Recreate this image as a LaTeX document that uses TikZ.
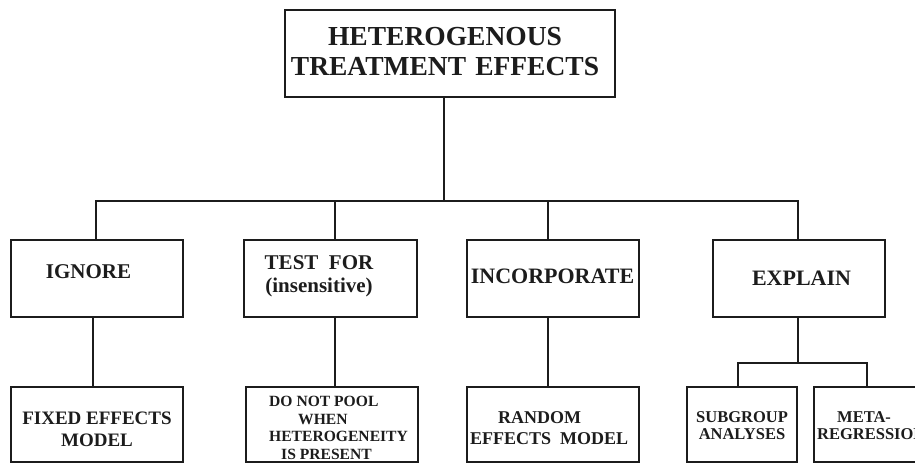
\documentclass[tikz,border=0pt]{standalone}
\usepackage{fontspec}
\setmainfont{Liberation Serif}
\definecolor{ink}{HTML}{1C1C1C}
\begin{document}
\begin{tikzpicture}[x=1pt,y=-1pt,
  box/.style={draw=ink,line width=1.6pt,rectangle,inner sep=0pt,minimum height=#1},
  box/.default=77,
  conn/.style={draw=ink,line width=1.6pt},
  txt/.style={inner sep=0pt,text=ink,font=\bfseries\fontsize{#1}{#1}\selectfont},
]
\useasboundingbox (0,0) rectangle (915,464);
\clip (0,0) rectangle (915,464);
% boxes
\node[box=87,minimum width=330] (top) at (450,53.5) {};
\node[box,minimum width=172] (ign) at (97,278.5) {};
\node[box,minimum width=173] (tst) at (330.5,278.5) {};
\node[box,minimum width=172] (inc) at (553,278.5) {};
\node[box,minimum width=172] (exp) at (799,278.5) {};
\node[box=75,minimum width=172] (fix) at (97,424.5) {};
\node[box=75,minimum width=172] (dnp) at (332,424.5) {};
\node[box=75,minimum width=172] (ran) at (553,424.5) {};
\node[box=75,minimum width=110] (sub) at (742,424.5) {};
\node[box=75,minimum width=112] (met) at (870,424.5) {};
% texts
\node[txt=27.5,align=center,text width=330,font=\bfseries\fontsize{27.5}{30}\selectfont] (topT) at (445,51.5) {HETEROGENOUS\\TREATMENT EFFECTS};
\node[txt=21] (ignT) at (88.5,272) {IGNORE};
\node[txt=21,align=center,font=\bfseries\fontsize{21}{23}\selectfont] (tstT) at (319,276) {TEST\ \ FOR\\(insensitive)};
\node[txt=22] (incT) at (552.5,276) {INCORPORATE};
\node[txt=22] (expT) at (801.5,278) {EXPLAIN};
\node[txt=19,align=center,font=\bfseries\fontsize{19}{22}\selectfont] (fixT) at (97,429.5) {FIXED EFFECTS\\MODEL};
\node[txt=15.6,align=left,anchor=west,font=\bfseries\fontsize{15.6}{17.7}\selectfont] (dnpT) at (269,428) {DO NOT POOL\\\hspace*{29pt}WHEN\\HETEROGENEITY\\\hspace*{12pt}IS PRESENT};
\node[txt=18,align=left,anchor=west,font=\bfseries\fontsize{18}{21}\selectfont] (ranT) at (470,428.5) {\hspace*{28pt}RANDOM\\EFFECTS\ \ MODEL};
\node[txt=16.5,align=center,font=\bfseries\fontsize{16.5}{17}\selectfont] (subT) at (742,426) {SUBGROUP\\ANALYSES};
\node[txt=16.5,align=left,anchor=west,font=\bfseries\fontsize{16.5}{17}\selectfont] (metT) at (817,426) {\hspace*{20pt}META-\\REGRESSION};
% bus coordinates
\coordinate (bC) at (444,201);
\coordinate (bI) at (96,201);
\coordinate (bT) at (335,201);
\coordinate (bN) at (548,201);
\coordinate (bE) at (798,201);
\coordinate (sE) at (798,363);
\coordinate (sS) at (738,363);
\coordinate (sM) at (867,363);
% connectors
\draw[conn] (top.south -| bC) -- (bC);
\draw[conn,line cap=rect] (bI) -- (bE);
\draw[conn] (bI) -- (bI |- ign.north);
\draw[conn] (bT) -- (bT |- tst.north);
\draw[conn] (bN) -- (bN |- inc.north);
\draw[conn] (bE) -- (bE |- exp.north);
\draw[conn] (ign.south -| 93,0) -- (fix.north -| 93,0);
\draw[conn] (tst.south -| bT) -- (dnp.north -| bT);
\draw[conn] (inc.south -| bN) -- (ran.north -| bN);
\draw[conn] (exp.south -| bE) -- (sE);
\draw[conn,line cap=rect] (sS) -- (sM);
\draw[conn] (sS) -- (sS |- sub.north);
\draw[conn] (sM) -- (sM |- met.north);
\end{tikzpicture}
\end{document}
